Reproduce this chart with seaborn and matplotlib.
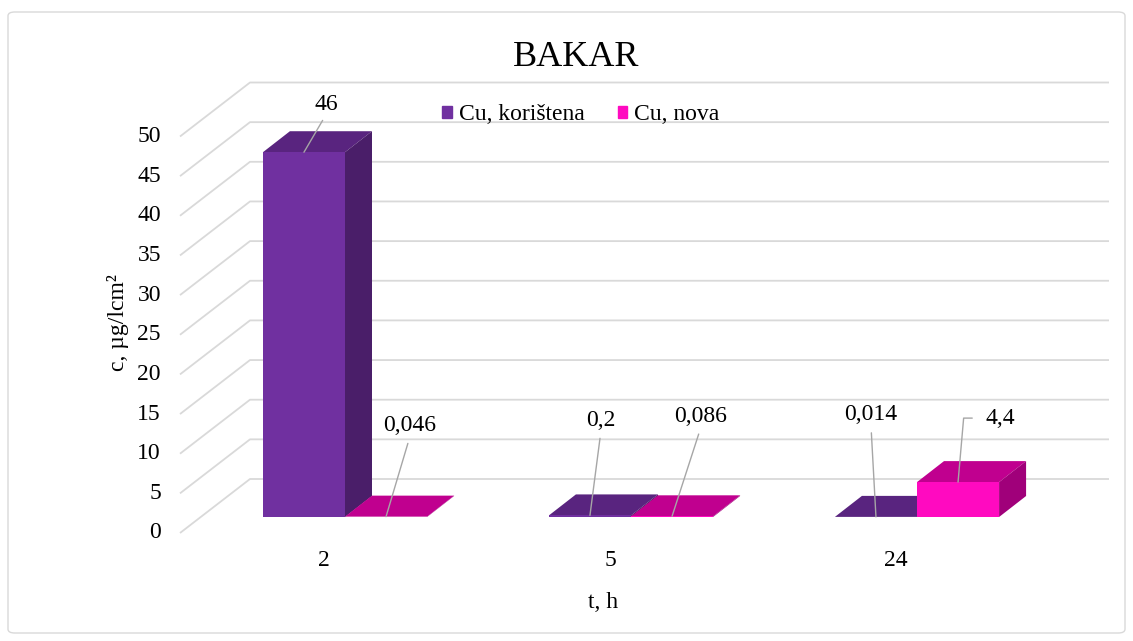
import pandas as pd
import matplotlib.pyplot as plt
import seaborn as sns
from matplotlib.patches import Polygon, Patch, FancyBboxPatch

times = ['2', '5', '24']
serije = ['Cu, korištena', 'Cu, nova']
koristena = [46, 0.2, 0.014]
nova = [0.046, 0.086, 4.4]
labels_kor = ['46', '0,2', '0,014']
labels_nova = ['0,046', '0,086', '4,4']
y_ticks = list(range(0, 55, 5))

front_cols = ['#7030A0', '#FF0AC0']
top_cols = ['#59247F', '#C0008F']
side_cols = ['#4A1E69', '#A0007A']

df = pd.DataFrame({
    't': times * 2,
    'c': koristena + nova,
    'serija': [serije[0]] * 3 + [serije[1]] * 3,
})

sns.set_theme(style='white')
plt.rcParams['font.family'] = ['Liberation Serif', 'DejaVu Serif']
plt.rcParams['text.color'] = 'black'

W, H = 1133, 641
fig = plt.figure(figsize=(W / 100, H / 100), dpi=100)
ax = fig.add_axes([0, 0, 1, 1])

# excel 3d layout in pixels: group centre, px per group, bar baseline, px per unit
gx0, gstep, base, unit = 345, 286, 517, 7.93
px = lambda p: (p - gx0) / gstep
py = lambda p: (base - p) / unit

# back wall + left wall gridlines
wall_x0, wall_x1, wall_dy = px(250), px(1109), (base - 479) / unit
front_x, front_dy = px(180), -16 / unit
for v in y_ticks:
    ax.plot([front_x, wall_x0, wall_x1], [v + front_dy, v + wall_dy, v + wall_dy],
            color='#D9D9D9', lw=1.3, zorder=1, solid_capstyle='butt')
    ax.text(px(161), v + front_dy, str(v), ha='right', va='center', fontsize=17)

sns.barplot(data=df, x='t', y='c', hue='serija', order=times, hue_order=serije,
            palette=front_cols, saturation=1, width=0.574, errorbar=None,
            legend=False, ax=ax, zorder=3, linewidth=0)

# fake depth: top and side faces
dx, dy = 27 / gstep, 21 / unit
for cont, tc, sc in zip(ax.containers, top_cols, side_cols):
    for bar in cont:
        x0, w, h = bar.get_x(), bar.get_width(), bar.get_height()
        ax.add_patch(Polygon([(x0, h), (x0 + w, h), (x0 + w + dx, h + dy), (x0 + dx, h + dy)],
                             closed=True, color=tc, lw=0, zorder=2))
        ax.add_patch(Polygon([(x0 + w, 0), (x0 + w, h), (x0 + w + dx, h + dy), (x0 + w + dx, dy)],
                             closed=True, color=sc, lw=0, zorder=2))

# data labels with leader lines (offsets in pixels)
offsets = [[(22, 48), (11, 95), (-5, 102)], [(24, 91), (29, 100), (42, 64)]]
texts = [labels_kor, labels_nova]
for cont, offs, txts in zip(ax.containers, offsets, texts):
    for bar, off, t in zip(cont, offs, txts):
        xc = bar.get_x() + bar.get_width() / 2
        ap = dict(arrowstyle='-', color='#A6A6A6', lw=1, shrinkA=3, shrinkB=0, relpos=(0.5, 0))
        if off[0] > 30 and off[1] < 70:
            ap.update(relpos=(0, 0.5), shrinkA=7, connectionstyle='angle,angleA=0,angleB=85,rad=0')
        elif off[1] < 70:
            ap.update(shrinkA=2)
        ax.annotate(t, xy=(xc, bar.get_height()), xytext=off, textcoords='offset pixels',
                    ha='center', va='center', fontsize=17, arrowprops=ap, zorder=5)

for i, t in enumerate(times):
    ax.text(i - 21 / gstep, py(561), t, ha='center', va='center', fontsize=17)

ax.text(px(603), py(602), 't, h', ha='center', va='center', fontsize=17)
ax.text(px(118), py(323), 'c, µg/lcm²', ha='center', va='center', rotation=90, fontsize=17)

fig.text(576 / W, 1 - 57 / H, 'BAKAR', ha='center', va='center', fontsize=26)

handles = [Patch(color=c, label=s) for c, s in zip(front_cols, serije)]
ax.legend(handles=handles, loc='center', bbox_to_anchor=(581 / W, 1 - 115 / H), ncol=2,
          frameon=False, handlelength=0.4, handleheight=0.4, handletextpad=0.3,
          columnspacing=1.4, fontsize=17, labelcolor='black')

ax.set_xlim(px(0), px(W))
ax.set_ylim(py(H), py(0))
ax.axis('off')

fig.add_artist(FancyBboxPatch((8 / W, 8 / H), 1117 / W, 621 / H,
                              boxstyle='round,pad=0,rounding_size=0.006',
                              transform=fig.transFigure, fill=False,
                              edgecolor='#D9D9D9', lw=1))

fig.savefig('out.png', dpi=100)
